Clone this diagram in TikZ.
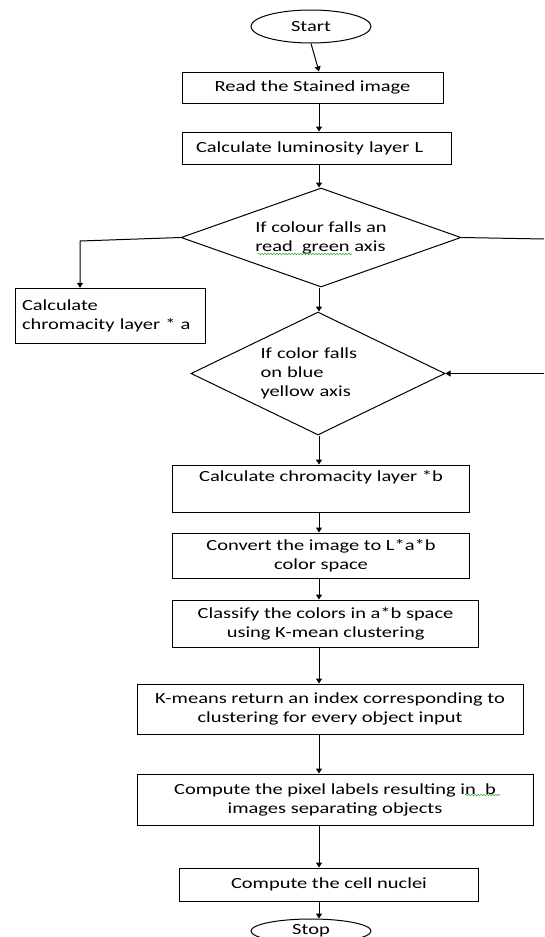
\documentclass[tikz,border=0pt]{standalone}
\usepackage{fontspec}
\setmainfont{Carlito}[FakeStretch=1.32]
\usetikzlibrary{shapes.geometric,arrows.meta,decorations.pathmorphing}
\definecolor{spellgreen}{RGB}{70,175,70}
\newcommand{\flowfont}{\fontsize{15.5}{19}\selectfont}

\begin{document}
\begin{tikzpicture}[x=1pt, y=-1pt, >={Triangle[length=5pt,width=6pt]}, line width=1pt]
    \tikzset{
        term/.style={draw, ellipse, inner sep=0pt, font=\flowfont},
        proc/.style={draw, rectangle, inner sep=0pt, align=center, font=\flowfont},
        decision/.style={draw, diamond, inner sep=0pt, align=left, font=\flowfont},
        flow/.style={->},
        squiggle/.style={draw=spellgreen, line width=0.6pt, decorate, decoration={snake, amplitude=0.8pt, segment length=3pt}}
    }
    \useasboundingbox (0,0) rectangle (544,937);

    % start and luminosity
    \node[term, minimum width=120, minimum height=33] (start) at (311,26.5) {Start};
    \node[proc, minimum width=261, minimum height=31] (read) at (312.5,87.5) {Read the Stained image};
    \node[proc, minimum width=269, minimum height=32, text width=241, align=left] (lum) at (316.5,148) {Calculate luminosity layer L};

    % the two colour axis tests
    \node[decision, aspect=2.8, minimum width=280, minimum height=99] (redgreen) at (321,237.5) {If colour falls an\\read\ \ green axis};
    \node[proc, minimum width=190, minimum height=55, text width=176, align=left] (chroma) at (110,315.8) {Calculate\\chromacity layer * a};
    \node[decision, aspect=2, minimum width=254, minimum height=123, text width=115] (blueyellow) at (318,373.5) {If color falls\\on blue\\yellow axis};

    % L*a*b and clustering
    \node[proc, minimum width=297.5, minimum height=47] (chromb) at (321,488.5) {Calculate chromacity layer *b\\\strut};
    \node[proc, minimum width=297.5, minimum height=45] (convert) at (321,555.5) {Convert the image to L*a*b\\color space};
    \node[proc, minimum width=306, minimum height=47] (classify) at (325.6,623.5) {Classify the colors in a*b space\\using K-mean clustering};
    \node[proc, minimum width=386, minimum height=50] (kmeans) at (330,709) {K-means return an index corresponding to\\clustering for every object input};
    \node[proc, minimum width=396, minimum height=51] (labels) at (335,799.5) {Compute the pixel labels resulting in\ \ b\\images separating objects};
    \node[proc, minimum width=299, minimum height=33] (nuclei) at (329,884.5) {Compute the cell nuclei};
    \node[term, minimum width=120, minimum height=24] (stop) at (311,931) {Stop};

    \coordinate (ax) at (319,0);
    \coordinate (lturn) at (80,241);
    \coordinate (rout) at (544,239);
    \coordinate (rin) at (544,373.5);

    \draw[flow] (start.south) -- (read.north -| ax);
    \draw[flow] (read.south -| ax) -- (lum.north -| ax);
    \draw[flow] (lum.south -| ax) -- (redgreen.north -| ax);
    \draw[flow] (redgreen.west) -- (lturn) -- (lturn |- chroma.north);
    \draw (redgreen.east) -- (rout);
    \draw[flow] (rin) -- (blueyellow.east);
    \draw[flow] (redgreen.south -| ax) -- (blueyellow.north -| ax);
    \draw[flow] (blueyellow.south -| ax) -- (chromb.north -| ax);
    \draw[flow] (chromb.south -| ax) -- (convert.north -| ax);
    \draw[flow] (convert.south -| ax) -- (classify.north -| ax);
    \draw[flow] (classify.south -| ax) -- (kmeans.north -| ax);
    \draw[flow] (kmeans.south -| ax) -- (labels.north -| ax);
    \draw[flow] (labels.south -| ax) -- (nuclei.north -| ax);
    \draw[flow] (nuclei.south -| ax) -- (stop.north -| ax);

    % spell check marks
    \draw[squiggle] (258,254) -- (352,254);
    \draw[squiggle] (465,795) -- (500,795);
\end{tikzpicture}
\end{document}
